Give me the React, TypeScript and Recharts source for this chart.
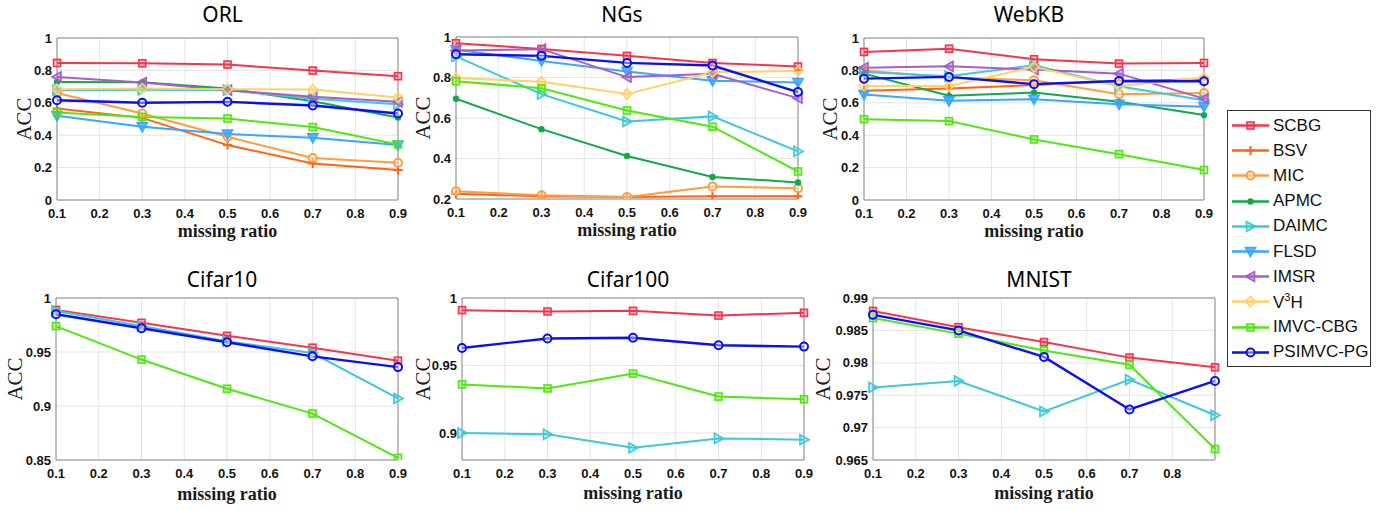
import React from 'react'
import { LineChart, Line, XAxis, YAxis, CartesianGrid, ReferenceArea, Legend } from 'recharts'

// missing ratios on the x axis
const ratios = [0.1, 0.3, 0.5, 0.7, 0.9]

const methods = ['SCBG', 'BSV', 'MIC', 'APMC', 'DAIMC', 'FLSD', 'IMSR', 'V3H', 'IMVC-CBG', 'PSIMVC-PG']
const methodColors = ['#f2364f', '#ff6414', '#ff9d3c', '#13a84c', '#3ec8d8', '#3aa6ff', '#a85ec6', '#ffd264', '#52e612', '#0a10f0']
const methodMarkers = ['square', 'plus', 'circle', 'dot', 'right', 'down', 'left', 'diamond', 'square', 'circle']

const orlAcc: Record<string, number[]> = {
    SCBG: [0.846, 0.844, 0.836, 0.799, 0.764],
    BSV: [0.565, 0.507, 0.339, 0.226, 0.185],
    MIC: [0.661, 0.534, 0.39, 0.259, 0.23],
    APMC: [0.729, 0.727, 0.688, 0.61, 0.509],
    DAIMC: [0.678, 0.68, 0.678, 0.625, 0.591],
    FLSD: [0.52, 0.452, 0.407, 0.384, 0.339],
    IMSR: [0.76, 0.725, 0.678, 0.637, 0.606],
    V3H: [0.684, 0.688, 0.684, 0.682, 0.632],
    'IMVC-CBG': [0.54, 0.513, 0.503, 0.45, 0.343],
    'PSIMVC-PG': [0.616, 0.6, 0.606, 0.583, 0.534],
}

const ngsAcc: Record<string, number[]> = {
    SCBG: [0.969, 0.941, 0.907, 0.872, 0.854],
    BSV: [0.226, 0.213, 0.21, 0.213, 0.213],
    MIC: [0.238, 0.218, 0.21, 0.262, 0.253],
    APMC: [0.695, 0.545, 0.412, 0.309, 0.282],
    DAIMC: [0.904, 0.718, 0.583, 0.608, 0.435],
    FLSD: [0.937, 0.882, 0.83, 0.784, 0.775],
    IMSR: [0.933, 0.94, 0.802, 0.818, 0.698],
    V3H: [0.797, 0.779, 0.718, 0.826, 0.833],
    'IMVC-CBG': [0.782, 0.747, 0.637, 0.557, 0.336],
    'PSIMVC-PG': [0.915, 0.907, 0.872, 0.859, 0.728],
}

const webkbAcc: Record<string, number[]> = {
    SCBG: [0.914, 0.934, 0.869, 0.842, 0.846],
    BSV: [0.674, 0.688, 0.71, 0.735, 0.745],
    MIC: [0.8, 0.756, 0.739, 0.653, 0.661],
    APMC: [0.78, 0.643, 0.663, 0.606, 0.524],
    DAIMC: [0.79, 0.764, 0.832, 0.702, 0.616],
    FLSD: [0.651, 0.612, 0.622, 0.591, 0.575],
    IMSR: [0.817, 0.825, 0.805, 0.78, 0.626],
    V3H: [0.704, 0.704, 0.821, 0.702, 0.756],
    'IMVC-CBG': [0.499, 0.487, 0.374, 0.283, 0.185],
    'PSIMVC-PG': [0.749, 0.76, 0.715, 0.735, 0.733],
}

const cifar10Acc: Record<string, number[]> = {
    SCBG: [0.989, 0.977, 0.965, 0.954, 0.942],
    DAIMC: [0.988, 0.974, 0.96, 0.949, 0.907],
    'IMVC-CBG': [0.974, 0.943, 0.916, 0.893, 0.852],
    'PSIMVC-PG': [0.985, 0.972, 0.959, 0.946, 0.936],
}

const cifar100Acc: Record<string, number[]> = {
    SCBG: [0.991, 0.99, 0.9905, 0.987, 0.989],
    DAIMC: [0.9, 0.899, 0.889, 0.896, 0.895],
    'IMVC-CBG': [0.936, 0.933, 0.944, 0.927, 0.925],
    'PSIMVC-PG': [0.963, 0.97, 0.9705, 0.965, 0.964],
}

const mnistAcc: Record<string, number[]> = {
    SCBG: [0.988, 0.9855, 0.9832, 0.9808, 0.9793],
    DAIMC: [0.9762, 0.9772, 0.9725, 0.9774, 0.9719],
    'IMVC-CBG': [0.9869, 0.9845, 0.9819, 0.9797, 0.9667],
    'PSIMVC-PG': [0.9874, 0.985, 0.9809, 0.9728, 0.9772],
}

const fullXTicks = [0.1, 0.2, 0.3, 0.4, 0.5, 0.6, 0.7, 0.8, 0.9]
const mnistXTicks = [0.1, 0.2, 0.3, 0.4, 0.5, 0.6, 0.7, 0.8]
const unitYTicks = [0, 0.2, 0.4, 0.6, 0.8, 1]
const ngsYTicks = [0.2, 0.4, 0.6, 0.8, 1]
const cifar10YTicks = [0.85, 0.9, 0.95, 1]
const cifar100YTicks = [0.9, 0.95, 1]
const mnistYTicks = [0.965, 0.97, 0.975, 0.98, 0.985, 0.99]

const panels = [
    { title: 'ORL', acc: orlAcc, box: { x: 57, y: 38, w: 341, h: 162 }, yDomain: [0, 1], yTicks: unitYTicks, xTicks: fullXTicks, titleBase: 23, xGap: 37, yGap: 26 },
    { title: 'NGs', acc: ngsAcc, box: { x: 456, y: 37, w: 342, h: 162 }, yDomain: [0.2, 1], yTicks: ngsYTicks, xTicks: fullXTicks, titleBase: 23, xGap: 37, yGap: 26 },
    { title: 'WebKB', acc: webkbAcc, box: { x: 864, y: 38, w: 340, h: 162 }, yDomain: [0, 1], yTicks: unitYTicks, xTicks: fullXTicks, titleBase: 23, xGap: 37, yGap: 27, legend: true },
    { title: 'Cifar10', acc: cifar10Acc, box: { x: 56, y: 298, w: 342, h: 162 }, yDomain: [0.85, 1], yTicks: cifar10YTicks, xTicks: fullXTicks, titleBase: 288, xGap: 40, yGap: 34 },
    { title: 'Cifar100', acc: cifar100Acc, box: { x: 462, y: 298, w: 342, h: 162 }, yDomain: [0.88, 1], yTicks: cifar100YTicks, xTicks: fullXTicks, titleBase: 288, xGap: 39, yGap: 32 },
    { title: 'MNIST', acc: mnistAcc, box: { x: 873, y: 298, w: 342, h: 162 }, yDomain: [0.965, 0.99], yTicks: mnistYTicks, xTicks: mnistXTicks, titleBase: 288, xGap: 39, yGap: 43 },
]

const tickStyle = { fontSize: 13, fontWeight: 700, fill: '#141414', fontFamily: '"Liberation Sans", Arial, sans-serif' }

function Marker({ cx, cy, shape, color }: { cx: number, cy: number, shape: string, color: string }) {
    if (cx == null || cy == null) return null
    const common = { stroke: color, strokeWidth: 1.6, fill: color, fillOpacity: 0.3 }
    switch (shape) {
        case 'square':
            return <rect x={cx - 3.5} y={cy - 3.5} width={7} height={7} {...common} />
        case 'plus':
            return <path d={`M${cx - 4.5},${cy}H${cx + 4.5}M${cx},${cy - 4.5}V${cy + 4.5}`} stroke={color} strokeWidth={2} />
        case 'circle':
            return <circle cx={cx} cy={cy} r={4} stroke={color} strokeWidth={2} fill="#fff" fillOpacity={0.4} />
        case 'dot':
            return <circle cx={cx} cy={cy} r={3.2} fill={color} />
        case 'right':
            return <polygon points={`${cx + 5},${cy} ${cx - 4},${cy - 5} ${cx - 4},${cy + 5}`} {...common} />
        case 'down':
            return <polygon points={`${cx - 5},${cy - 4} ${cx + 5},${cy - 4} ${cx},${cy + 5}`} {...common} fillOpacity={0.8} />
        case 'left':
            return <polygon points={`${cx - 5},${cy} ${cx + 4},${cy - 5} ${cx + 4},${cy + 5}`} {...common} fillOpacity={0.5} />
        case 'diamond':
            return <polygon points={`${cx},${cy - 5} ${cx + 5},${cy} ${cx},${cy + 5} ${cx - 5},${cy}`} {...common} />
        default:
            return null
    }
}

const LegendBox = ({ payload }: any) => {
    // keep the plotting order, not the alphabetical one
    const items = [...(payload || [])].sort((a: any, b: any) => methods.indexOf(a.dataKey) - methods.indexOf(b.dataKey))
    return (
        <div style={{ border: '1px solid #333', background: '#fff', width: 142, paddingTop: 2, paddingBottom: 1, fontFamily: '"Liberation Sans", Arial, sans-serif', fontSize: 17, color: '#111' }}>
            {items.map((entry: any) => {
                const i = methods.indexOf(entry.dataKey)
                return (
                    <div key={entry.dataKey} style={{ height: 25.2, display: 'flex', alignItems: 'center' }}>
                        <svg width={45} height={25} style={{ flex: 'none' }}>
                            <line x1={4} x2={41} y1={12.5} y2={12.5} stroke={methodColors[i]} strokeWidth={2.5} />
                            <Marker cx={22.5} cy={12.5} shape={methodMarkers[i]} color={methodColors[i]} />
                        </svg>
                        <span>
                            {entry.dataKey === 'V3H' ? <>V<sup style={{ fontSize: 11 }}>3</sup>H</> : entry.dataKey}
                        </span>
                    </div>
                )
            })}
        </div>
    )
}

const YW = 64
const XH = 48
const MT = 10
const MR = 10

function Panel({ p }: { p: any }) {
    const names = methods.filter(m => p.acc[m])
    const rows = ratios.map((r, i) => {
        const row: any = { ratio: r }
        names.forEach(m => { row[m] = p.acc[m][i] })
        return row
    })
    const chartLeft = p.box.x - YW
    const chartTop = p.box.y - MT

    return (
        <>
            <div style={{ position: 'absolute', left: p.box.x - 5, top: p.titleBase - 18.6, width: p.box.w, textAlign: 'center', fontFamily: '"Noto Sans", sans-serif', fontSize: 21, lineHeight: 1, color: '#000' }}>
                {p.title}
            </div>
            <div style={{ position: 'absolute', left: chartLeft, top: chartTop }}>
                <LineChart width={p.box.w + YW + MR} height={p.box.h + MT + XH} data={rows} margin={{ top: MT, right: MR, bottom: 0, left: 0 }}>
                    <CartesianGrid stroke="#e4e4e4" strokeWidth={1} />
                    <XAxis
                        dataKey="ratio"
                        type="number"
                        domain={[0.1, 0.9]}
                        ticks={p.xTicks}
                        interval={0}
                        height={XH}
                        axisLine={false}
                        tickLine={false}
                        tickSize={4}
                        tickMargin={5}
                        tick={tickStyle}
                        tickFormatter={(v: number) => String(v)}
                        label={(props: any) => {
                            const vb = props.viewBox
                            return (
                                <text x={vb.x + vb.width / 2} y={vb.y + p.xGap} textAnchor="middle" fontFamily='"Liberation Serif", "Times New Roman", serif' fontWeight={700} fontSize={18} fill="#1a1a1a">
                                    missing ratio
                                </text>
                            )
                        }}
                    />
                    <YAxis
                        type="number"
                        domain={p.yDomain}
                        ticks={p.yTicks}
                        interval={0}
                        width={YW}
                        allowDataOverflow
                        axisLine={false}
                        tickLine={false}
                        tickSize={4}
                        tickMargin={1}
                        tick={tickStyle}
                        tickFormatter={(v: number) => String(v)}
                        label={(props: any) => {
                            const vb = props.viewBox
                            const x = vb.x + vb.width - p.yGap
                            const y = vb.y + vb.height / 2
                            return (
                                <text x={x} y={y} transform={`rotate(-90 ${x} ${y})`} textAnchor="middle" fontFamily='"Liberation Serif", "Times New Roman", serif' fontSize={21} fill="#1a1a1a">
                                    ACC
                                </text>
                            )
                        }}
                    />
                    <ReferenceArea x1={0.1} x2={0.9} y1={p.yDomain[0]} y2={p.yDomain[1]} fill="none" stroke="#8c8c8c" strokeWidth={1} />
                    {names.map(m => {
                        const i = methods.indexOf(m)
                        return (
                            <Line
                                key={m}
                                type="linear"
                                dataKey={m}
                                stroke={methodColors[i]}
                                strokeWidth={m === 'PSIMVC-PG' ? 2.4 : 2}
                                isAnimationActive={false}
                                activeDot={false}
                                dot={(d: any) => <Marker key={`${m}-${d.index}`} cx={d.cx} cy={d.cy} shape={methodMarkers[i]} color={methodColors[i]} />}
                            />
                        )
                    })}
                    {p.legend && (
                        <Legend
                            layout="vertical"
                            align="center"
                            verticalAlign="middle"
                            width={144}
                            wrapperStyle={{ left: 1227 - chartLeft, top: 110 - chartTop, width: 144 }}
                            content={LegendBox}
                        />
                    )}
                </LineChart>
            </div>
        </>
    )
}

export default function App() {
    return (
        <div style={{ position: 'absolute', left: 0, top: 0, width: 1390, height: 510, background: '#fff', overflow: 'hidden' }}>
            {panels.map(p => <Panel key={p.title} p={p} />)}
        </div>
    )
}
